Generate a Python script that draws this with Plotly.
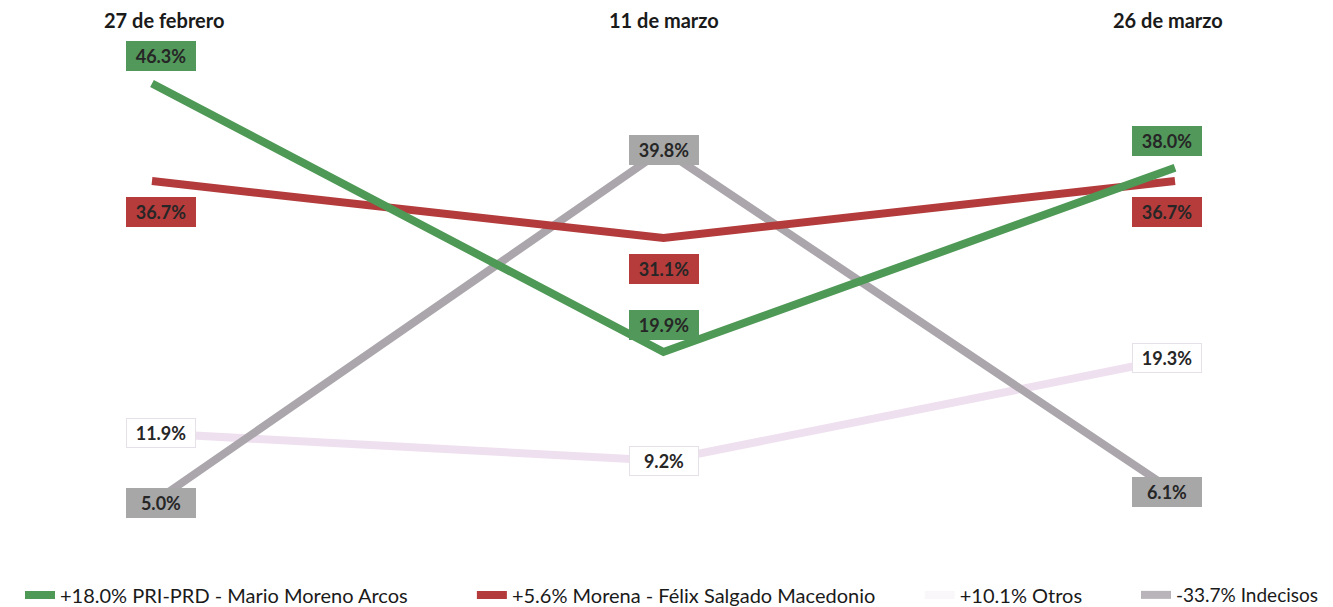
import plotly.graph_objects as go

dates = ["27 de febrero", "11 de marzo", "26 de marzo"]
pri = [46.3, 19.9, 38.0]
morena = [36.7, 31.1, 36.7]
otros = [11.9, 9.2, 19.3]
indecisos = [5.0, 39.8, 6.1]
names = ["+18.0% PRI-PRD - Mario Moreno Arcos",
         "+5.6% Morena - Félix Salgado Macedonio",
         "+10.1% Otros",
         "-33.7% Indecisos"]
colors = ["#4f9956", "#b33b3b", "#efe0f0", "#aaa6ab"]
legend_colors = ["#4f9956", "#b33b3b", "#faf7fa", "#b8b4b9"]
label_bg = ["#52985a", "#b63c3c", "#ffffff", "#a7a7a7"]
label_shift = [27, -31, 0, 0]
series = [pri, morena, otros, indecisos]
xs = [0, 1, 2]

FONT = "Lato"
fig = go.Figure()
legend_x = [0.009, 0.348, 0.684, 0.8462]
legend_size = [20, 20, 20, 19]
traces = []
for i, (vals, name, col) in enumerate(zip(series, names, colors)):
    traces.append(go.Scatter(x=xs, y=vals, mode="lines", name=name,
                             line=dict(color=col, width=8),
                             showlegend=False, hoverinfo="skip"))
for t in (traces[2], traces[3], traces[1], traces[0]):
    fig.add_trace(t)
# legend-only entries (sample colours as in the reference)
for i, (name, col) in enumerate(zip(names, legend_colors)):
    leg = "legend" if i == 0 else f"legend{i+1}"
    fig.add_trace(go.Scatter(x=[None], y=[None], mode="lines", name=name,
                             line=dict(color=col, width=8), legend=leg))

label_xshift = [9, 0, -8]
for vals, bg, sh in zip(series, label_bg, label_shift):
    for x, v in zip(xs, vals):
        fig.add_annotation(x=x, y=v, xref="x", yref="y", text=f"<b>{v:.1f}%</b>",
                           showarrow=False, yshift=sh, xshift=label_xshift[x],
                           width=60, height=20,
                           bgcolor=bg, bordercolor="#e6e0e8" if bg == "#ffffff" else bg,
                           borderwidth=1, borderpad=4,
                           font=dict(family=FONT, size=18, color="#262626"))

title_shift = [12, 0, -7]
for x, d, s in zip(xs, dates, title_shift):
    fig.add_annotation(x=x, y=1.0, xref="x", yref="paper", text=f"<b>{d}</b>",
                       showarrow=False, yanchor="middle", yshift=-12, xshift=s,
                       font=dict(family=FONT, size=20, color="#1a1a1a"))

layout_legends = {}
for i, (lx, fs) in enumerate(zip(legend_x, legend_size)):
    key = "legend" if i == 0 else f"legend{i+1}"
    layout_legends[key] = dict(x=lx, y=0.02, xanchor="left", yanchor="middle",
                               orientation="h", bgcolor="rgba(0,0,0,0)",
                               font=dict(family=FONT, size=fs, color="#1a1a1a"),
                               itemwidth=30, tracegroupgap=0)

fig.update_layout(
    width=1333, height=607,
    margin=dict(l=0, r=0, t=0, b=0),
    paper_bgcolor="white", plot_bgcolor="white",
    xaxis=dict(range=[-0.2815, 2.3245], visible=False, fixedrange=True),
    yaxis=dict(range=[1.32, 53.72], visible=False, fixedrange=True,
               domain=[67 / 607, 1.0]),
    showlegend=True,
    **layout_legends,
)
fig.write_html("out.html")
